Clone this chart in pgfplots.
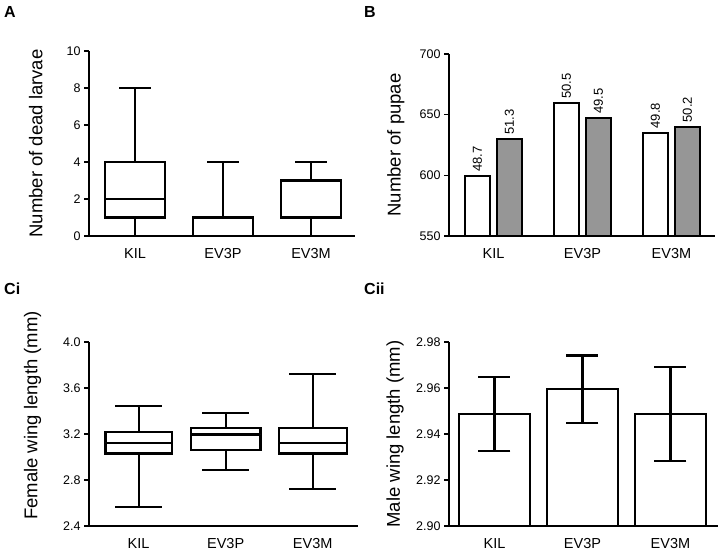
\documentclass[border=0pt]{standalone}
\usepackage{pgfplots}
\pgfplotsset{compat=1.18}
\usepgfplotslibrary{statistics}
\usepackage{fontspec}
\setmainfont{Liberation Sans}
\definecolor{bargrey}{RGB}{150,150,150}

\pgfplotsset{
  panel/.style={
    scale only axis, anchor=south west,
    axis x line=bottom, axis y line=left,
    axis line style={-, line width=2.2pt, black},
    tick align=outside, major tick length=5pt,
    ytick style={line width=1.6pt, black},
    xtick style={draw=none},
    xtick={0,1,2}, xticklabels={KIL,EV3P,EV3M},
    yticklabel style={font=\fontsize{12.5}{14}\selectfont},
    xticklabel style={font=\fontsize{14.5}{16}\selectfont, yshift=-4pt},
    ylabel style={font=\fontsize{18.5}{20}\selectfont,
      at={(axis description cs:-0.2,0.5)}, anchor=center},
    /pgf/number format/assume math mode=true,
    axis on top,
    boxplot/draw direction=y,
    boxplot/every box/.style={draw=black, fill=white, line width=2.2pt},
    boxplot/every median/.style={draw=black, line width=2.2pt},
    boxplot/every whisker/.style={draw=black, line width=2.2pt},
  },
  boxline/.style={draw=black, fill=white, line width=2.2pt, solid},
}

\begin{document}
\begin{tikzpicture}
\useasboundingbox (0pt,0pt) rectangle (720pt,553pt);
\tikzset{letter/.style={anchor=north west, inner sep=0pt,
  font=\bfseries\fontsize{16}{18}\selectfont}}
\node[letter] at (4pt,547pt) {A};
\node[letter] at (364pt,547pt) {B};
\node[letter] at (4pt,270pt) {Ci};
\node[letter] at (364pt,270pt) {Cii};

% A: dead larvae
\begin{axis}[panel, at={(89pt,317pt)}, width=266pt, height=185pt,
  xmin=-0.523, xmax=2.5, ymin=0, ymax=10, ytick={0,2,...,10},
  ylabel={Number of dead larvae}, clip=false]
  \addplot[boxline, boxplot prepared={draw position=0, lower whisker=0,
    lower quartile=1, median=2, upper quartile=4, upper whisker=8,
    box extend=0.68, whisker extend=0.36}] coordinates {};
  \addplot[boxline, boxplot prepared={draw position=1, lower whisker=0,
    lower quartile=0, median=0, upper quartile=1, upper whisker=4,
    box extend=0.68, whisker extend=0.36}] coordinates {};
  \addplot[boxline, boxplot prepared={draw position=2, lower whisker=0,
    lower quartile=1, median=1, upper quartile=3, upper whisker=4,
    box extend=0.68, whisker extend=0.36}] coordinates {};
\end{axis}

% B: pupae
\begin{axis}[panel, at={(449pt,317pt)}, width=266pt, height=182pt,
  xmin=-0.5, xmax=2.49, ymin=550, ymax=700, ytick={550,600,650,700},
  ylabel={Number of pupae}, ybar, bar width=25pt,
  nodes near coords, point meta=explicit symbolic,
  every node near coord/.append style={rotate=90, anchor=west,
    font=\fontsize{13}{15}\selectfont, black}]
  \addplot[draw=black, fill=white, line width=2.2pt, bar shift=-16pt]
    coordinates {(0,599.5)[48.7] (1,659.5)[50.5] (2,635)[49.8]};
  \addplot[draw=black, fill=bargrey, line width=2.2pt, bar shift=16pt]
    coordinates {(0,629.7)[51.3] (1,647)[49.5] (2,640)[50.2]};
\end{axis}

% Ci: female wing length
\begin{axis}[panel, at={(89pt,27pt)}, width=269pt, height=184pt,
  xmin=-0.57, xmax=2.52, ymin=2.4, ymax=4.0, ytick={2.4,2.8,...,4.0},
  yticklabel style={/pgf/number format/.cd, fixed, fixed zerofill, precision=1},
  ylabel={Female wing length (mm)},
  ylabel style={at={(axis description cs:-0.21,0.6)}}, clip=false]
  \addplot[boxline, boxplot prepared={draw position=0, lower whisker=2.565,
    lower quartile=3.03, median=3.125, upper quartile=3.22, upper whisker=3.44,
    box extend=0.76, whisker extend=0.54}] coordinates {};
  \addplot[boxline, boxplot prepared={draw position=1, lower whisker=2.884,
    lower quartile=3.064, median=3.195, upper quartile=3.25, upper whisker=3.383,
    box extend=0.8, whisker extend=0.54}] coordinates {};
  \addplot[boxline, boxplot prepared={draw position=2, lower whisker=2.72,
    lower quartile=3.03, median=3.125, upper quartile=3.25, upper whisker=3.719,
    box extend=0.78, whisker extend=0.54}] coordinates {};
\end{axis}

% Cii: male wing length
\begin{axis}[panel, at={(449pt,27pt)}, width=269pt, height=184pt,
  xmin=-0.517, xmax=2.54, ymin=2.90, ymax=2.98, ytick={2.90,2.92,...,2.98},
  yticklabel style={/pgf/number format/.cd, fixed, fixed zerofill, precision=2}, 
  ylabel={Male wing length (mm)}]
  \addplot[ybar, bar width=71pt, draw=black, fill=white, line width=2.2pt]
    coordinates {(0,2.9488) (1,2.9594) (2,2.9486)};
  \addplot[draw=none, no markers, line width=2.2pt,
    error bars/.cd, y dir=both, y explicit,
    error bar style={draw=black, line width=2.2pt},
    error mark options={draw=black, line width=2.2pt, mark size=16pt, rotate=90}]
    coordinates {(0,2.9488) +- (0,0.0161) (1,2.9594) +- (0,0.0147)
                 (2,2.9486) +- (0,0.0205)};
\end{axis}
\end{tikzpicture}
\end{document}
